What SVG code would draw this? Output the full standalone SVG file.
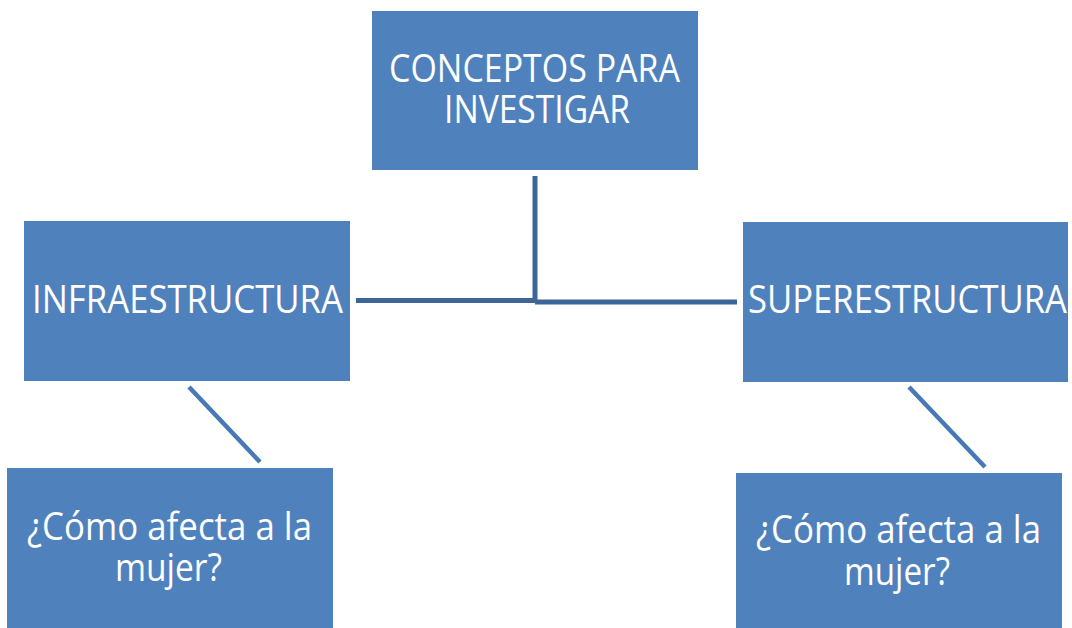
<svg xmlns="http://www.w3.org/2000/svg" width="1072" height="628" viewBox="0 0 1072 628">
  <style>
    .box { fill: #4F81BD; }
    .t { font-family: "Open Sans", "Noto Sans", "Liberation Sans", sans-serif; font-size: 38px; fill: #FFFFFF; }
    .conn { stroke: #3C6696; stroke-width: 5; fill: none; }
    .diag { stroke: #4679B5; stroke-width: 4.5; fill: none; }
  </style>
  <rect width="1072" height="628" fill="#FFFFFF"/>
  <g id="connectors">
    <line class="conn" x1="535" y1="176" x2="535" y2="302"/>
    <line class="conn" x1="356" y1="300.5" x2="536" y2="300.5"/>
    <line class="conn" x1="535" y1="302" x2="737" y2="302"/>
    <line class="diag" x1="189" y1="387" x2="260" y2="462"/>
    <line class="diag" x1="909" y1="387" x2="985" y2="467"/>
  </g>
  <g id="node-conceptos">
    <rect class="box" x="372" y="11" width="326" height="159"/>
    <text class="t" x="389" y="82" textLength="291" lengthAdjust="spacingAndGlyphs">CONCEPTOS PARA</text>
    <text class="t" x="444" y="123" textLength="186" lengthAdjust="spacingAndGlyphs">INVESTIGAR</text>
  </g>
  <g id="node-infra">
    <rect class="box" x="24" y="221" width="326" height="160"/>
    <text class="t" x="32" y="313" textLength="311" lengthAdjust="spacingAndGlyphs">INFRAESTRUCTURA</text>
  </g>
  <g id="node-super">
    <rect class="box" x="743" y="222" width="325" height="160"/>
    <text class="t" x="748" y="313" textLength="319" lengthAdjust="spacingAndGlyphs">SUPERESTRUCTURA</text>
  </g>
  <g id="node-mujer-left">
    <rect class="box" x="7" y="468" width="326" height="170"/>
    <text class="t" x="27" y="540" textLength="285" lengthAdjust="spacingAndGlyphs">¿Cómo afecta a la</text>
    <text class="t" x="115" y="581" textLength="107" lengthAdjust="spacingAndGlyphs">mujer?</text>
  </g>
  <g id="node-mujer-right">
    <rect class="box" x="736" y="473" width="326" height="165"/>
    <text class="t" x="756" y="543" textLength="285" lengthAdjust="spacingAndGlyphs">¿Cómo afecta a la</text>
    <text class="t" x="844" y="585" textLength="106" lengthAdjust="spacingAndGlyphs">mujer?</text>
  </g>
</svg>
